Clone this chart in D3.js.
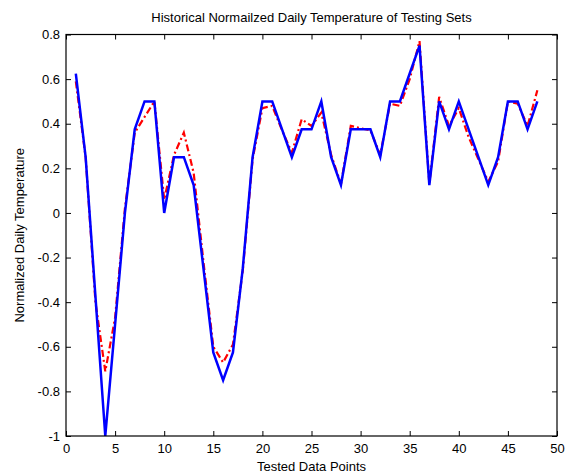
<!DOCTYPE html>
<html>
<head>
<meta charset="utf-8">
<script src="https://cdn.jsdelivr.net/npm/d3@7"></script>
<style>
  body { margin: 0; background: #fff; }
  svg { display: block; font-family: "Liberation Sans", Arial, sans-serif; }
</style>
</head>
<body>
<svg id="chart" width="571" height="476"></svg>
<script>
const titleText = "Historical Normailzed Daily Temperature of Testing Sets";
const xLabelText = "Tested Data Points";
const yLabelText = "Normalized Daily Temperature";

const xPoints = d3.range(1, 49);
const actual = [0.625, 0.25, -0.375, -1, -0.5, 0, 0.375, 0.5, 0.5, 0,
  0.25, 0.25, 0.125, -0.25, -0.625, -0.75, -0.625, -0.25, 0.25, 0.5,
  0.5, 0.375, 0.25, 0.375, 0.375, 0.5, 0.25, 0.125, 0.375, 0.375,
  0.375, 0.25, 0.5, 0.5, 0.625, 0.75, 0.125, 0.5, 0.375, 0.5,
  0.375, 0.25, 0.125, 0.25, 0.5, 0.5, 0.375, 0.5];
const predicted = [0.59, 0.25, -0.4, -0.71, -0.47, 0.02, 0.36, 0.43, 0.5, 0.06,
  0.26, 0.36, 0.18, -0.22, -0.6, -0.67, -0.59, -0.26, 0.24, 0.47,
  0.48, 0.37, 0.27, 0.42, 0.39, 0.45, 0.26, 0.13, 0.39, 0.38,
  0.37, 0.26, 0.49, 0.48, 0.6, 0.77, 0.13, 0.52, 0.39, 0.47,
  0.34, 0.24, 0.14, 0.23, 0.5, 0.49, 0.39, 0.55];
const xTicks = [0, 5, 10, 15, 20, 25, 30, 35, 40, 45, 50];
const yTicks = [0.8, 0.6, 0.4, 0.2, 0, -0.2, -0.4, -0.6, -0.8, -1];

const svg = d3.select("#chart");
const mLeft = 66, mRight = 557, mTop = 34.5, mBottom = 436;

const x = d3.scaleLinear().domain([0, 50]).range([mLeft, mRight]);
const y = d3.scaleLinear().domain([-1, 0.8]).range([mBottom, mTop]);

const fmtY = d => (Math.abs(d) < 1e-9 ? "0" : String(+d.toFixed(1)));

// Data lines
const line = d3.line().x((d, i) => x(xPoints[i])).y(d => y(d));
svg.append("path").datum(predicted)
  .attr("d", line).attr("fill", "none")
  .attr("stroke", "#ff0000").attr("stroke-width", 2.2)
  .attr("stroke-dasharray", "7,3,2,3");
svg.append("path").datum(actual)
  .attr("d", line).attr("fill", "none")
  .attr("stroke", "#0000ff").attr("stroke-width", 2.5)
  .attr("stroke-linejoin", "miter");

// Axes (MATLAB style: inward ticks, box)
const tickLen = 5;
const gx = svg.append("g").attr("transform", `translate(0,${mBottom})`)
  .call(d3.axisBottom(x).tickValues(xTicks).tickSize(-tickLen).tickPadding(8).tickFormat(d3.format("d")));
const gxTop = svg.append("g").attr("transform", `translate(0,${mTop})`)
  .call(d3.axisTop(x).tickValues(xTicks).tickSize(-tickLen).tickFormat(""));
const gy = svg.append("g").attr("transform", `translate(${mLeft},0)`)
  .call(d3.axisLeft(y).tickValues(yTicks).tickSize(-tickLen).tickPadding(6).tickFormat(fmtY));
const gyRight = svg.append("g").attr("transform", `translate(${mRight},0)`)
  .call(d3.axisRight(y).tickValues(yTicks).tickSize(-tickLen).tickFormat(""));

[gx, gxTop, gy, gyRight].forEach(g => {
  g.select(".domain").remove();
  g.selectAll(".tick line").attr("stroke", "#000").attr("stroke-width", 1);
  g.selectAll(".tick text").attr("fill", "#000").attr("font-size", 13);
});

svg.append("rect").attr("x", mLeft).attr("y", mTop)
  .attr("width", mRight - mLeft).attr("height", mBottom - mTop)
  .attr("fill", "none").attr("stroke", "#000").attr("stroke-width", 1.2);

// Labels
svg.append("text").attr("x", (mLeft + mRight) / 2).attr("y", 22)
  .attr("text-anchor", "middle").attr("font-size", 13).text(titleText);
svg.append("text").attr("x", (mLeft + mRight) / 2).attr("y", 471)
  .attr("text-anchor", "middle").attr("font-size", 13).text(xLabelText);
svg.append("text").attr("transform", `translate(24,${(mTop + mBottom) / 2}) rotate(-90)`)
  .attr("text-anchor", "middle").attr("font-size", 13).text(yLabelText);
</script>
</body>
</html>
